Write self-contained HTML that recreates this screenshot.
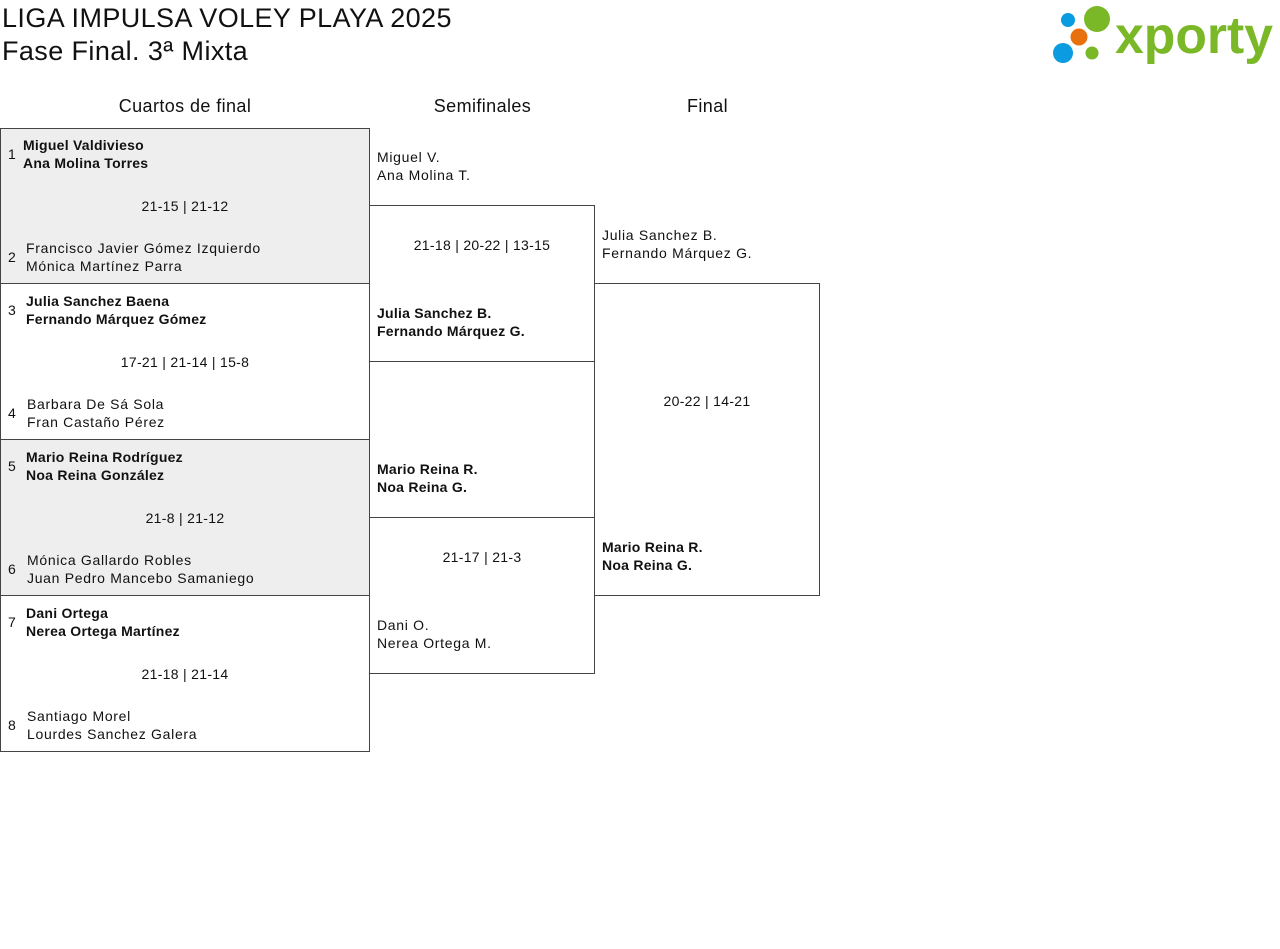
<!DOCTYPE html>
<html><head><meta charset="utf-8"><style>
body{margin:0;width:1280px;height:949px;background:#fff;font-family:"Liberation Sans",sans-serif;color:#111;position:relative;overflow:hidden}
.a{position:absolute;font-size:14px;line-height:18px;white-space:nowrap;letter-spacing:0.7px}
.b{font-weight:bold;letter-spacing:0.25px}
.box{position:absolute;border:1px solid #444;box-sizing:border-box}
.g{background:#eeeeee}
.h{position:absolute;font-size:18px;text-align:center;top:96px;letter-spacing:0.4px}
.c{text-align:center}
.s{letter-spacing:0.3px}
</style></head><body>
<div class="a" style="left:2px;top:2px;font-size:27px;line-height:32px;letter-spacing:0.4px">LIGA IMPULSA VOLEY PLAYA 2025</div>
<div class="a" style="left:2px;top:35px;font-size:27px;line-height:32px;letter-spacing:0.4px">Fase Final. 3ª Mixta</div>
<svg style="position:absolute;left:1050px;top:4px" width="230" height="64">
<circle cx="18" cy="16" r="7" fill="#0a9be0"/><circle cx="47" cy="15" r="13" fill="#7ab828"/>
<circle cx="29" cy="33" r="8.5" fill="#e8700e"/><circle cx="13" cy="49" r="10" fill="#0a9be0"/>
<circle cx="42" cy="49" r="6.5" fill="#7ab828"/>
<text x="65" y="49" font-family="Liberation Sans" font-weight="bold" font-size="52" fill="#7ab828" textLength="158" lengthAdjust="spacingAndGlyphs">xporty</text>
</svg>
<div class="h" style="left:0;width:370px">Cuartos de final</div>
<div class="h" style="left:370px;width:225px">Semifinales</div>
<div class="h" style="left:595px;width:225px">Final</div>

<div class="box g" style="left:0;top:128px;width:370px;height:156px"></div>
<div class="box" style="left:0;top:283px;width:370px;height:157px"></div>
<div class="box g" style="left:0;top:439px;width:370px;height:157px"></div>
<div class="box" style="left:0;top:595px;width:370px;height:157px"></div>
<div class="box" style="left:369px;top:205px;width:226px;height:157px"></div>
<div class="box" style="left:369px;top:517px;width:226px;height:157px"></div>
<div class="box" style="left:594px;top:283px;width:226px;height:313px"></div>

<div class="a" style="left:8px;top:145px">1</div>
<div class="a b" style="left:23px;top:136px">Miguel Valdivieso<br>Ana Molina Torres</div>
<div class="a c s" style="left:0;width:370px;top:197px">21-15 | 21-12</div>
<div class="a" style="left:8px;top:248px">2</div>
<div class="a" style="left:26px;top:239px">Francisco Javier Gómez Izquierdo<br>Mónica Martínez Parra</div>

<div class="a" style="left:8px;top:301px">3</div>
<div class="a b" style="left:26px;top:292px">Julia Sanchez Baena<br>Fernando Márquez Gómez</div>
<div class="a c s" style="left:0;width:370px;top:353px">17-21 | 21-14 | 15-8</div>
<div class="a" style="left:8px;top:404px">4</div>
<div class="a" style="left:27px;top:395px">Barbara De Sá Sola<br>Fran Castaño Pérez</div>

<div class="a" style="left:8px;top:457px">5</div>
<div class="a b" style="left:26px;top:448px">Mario Reina Rodríguez<br>Noa Reina González</div>
<div class="a c s" style="left:0;width:370px;top:509px">21-8 | 21-12</div>
<div class="a" style="left:8px;top:560px">6</div>
<div class="a" style="left:27px;top:551px">Mónica Gallardo Robles<br>Juan Pedro Mancebo Samaniego</div>

<div class="a" style="left:8px;top:613px">7</div>
<div class="a b" style="left:26px;top:604px">Dani Ortega<br>Nerea Ortega Martínez</div>
<div class="a c s" style="left:0;width:370px;top:665px">21-18 | 21-14</div>
<div class="a" style="left:8px;top:716px">8</div>
<div class="a" style="left:27px;top:707px">Santiago Morel<br>Lourdes Sanchez Galera</div>

<div class="a" style="left:377px;top:148px">Miguel V.<br>Ana Molina T.</div>
<div class="a c s" style="left:369px;width:226px;top:236px">21-18 | 20-22 | 13-15</div>
<div class="a b" style="left:377px;top:304px">Julia Sanchez B.<br>Fernando Márquez G.</div>
<div class="a b" style="left:377px;top:460px">Mario Reina R.<br>Noa Reina G.</div>
<div class="a c s" style="left:369px;width:226px;top:548px">21-17 | 21-3</div>
<div class="a" style="left:377px;top:616px">Dani O.<br>Nerea Ortega M.</div>

<div class="a" style="left:602px;top:226px">Julia Sanchez B.<br>Fernando Márquez G.</div>
<div class="a c s" style="left:594px;width:226px;top:392px">20-22 | 14-21</div>
<div class="a b" style="left:602px;top:538px">Mario Reina R.<br>Noa Reina G.</div>
</body></html>
